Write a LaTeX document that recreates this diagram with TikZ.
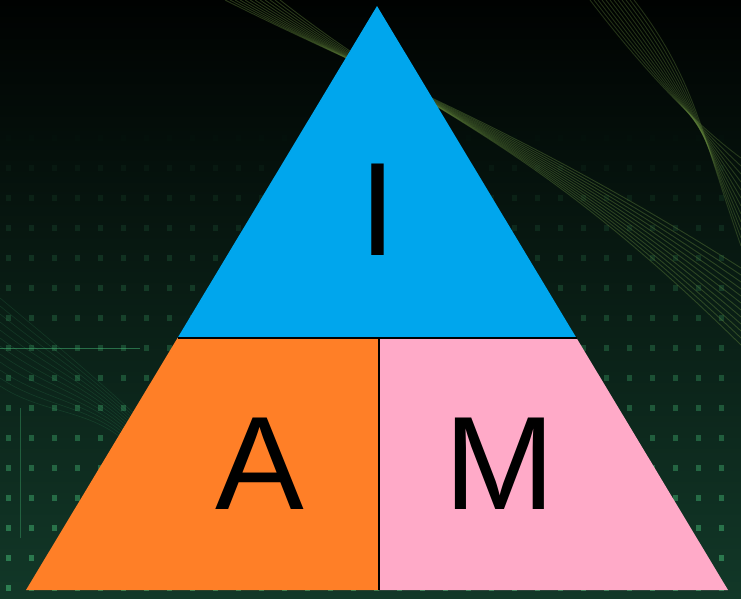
\documentclass[tikz,border=0pt]{standalone}
\usepackage{fontspec}
\setmainfont{Liberation Sans}
\definecolor{bgtop}{RGB}{0,2,1}
\definecolor{bgmid}{RGB}{6,20,14}
\definecolor{bgbot}{RGB}{18,56,40}
\definecolor{dotgreen}{RGB}{70,190,120}
\definecolor{wavegreen}{RGB}{100,135,60}
\definecolor{iblue}{RGB}{0,166,237}
\definecolor{aorange}{RGB}{255,127,39}
\definecolor{mpink}{RGB}{255,170,200}
\tikzset{
  letter/.style={anchor=base, inner sep=0pt, font=\fontsize{133}{133}\selectfont, text=black},
  divider/.style={draw=black, line width=2.8pt},
}
\begin{document}
\begin{tikzpicture}[x=1pt,y=1pt]
\useasboundingbox (0,0) rectangle (741,598);
% background
\shade[top color=bgtop, middle color=bgmid, bottom color=bgbot] (0,0) rectangle (741,598);
\foreach \yy in {10,40,...,460}{
  \pgfmathsetmacro{\op}{0.55*(1-\yy/470)}
  \foreach \xx in {8,31,...,740}{
    \fill[dotgreen, opacity=\op] (\xx-2.5,\yy-3) rectangle (\xx+2.5,\yy+3);
  }
}
\foreach \k in {0,...,11}{
  \draw[wavegreen, opacity=0.4, line width=0.9pt]
    (225+\k*5,598) .. controls (380+\k*5,520-\k*4) and (520,470) .. (741,330-\k*7);
  \draw[wavegreen, opacity=0.35, line width=0.9pt]
    (590+\k*4,598) .. controls (650+\k*4,520) and (700,470) .. (741,440-\k*8);
  \draw[dotgreen, opacity=0.15, line width=0.6pt]
    (0,300-\k*8) .. controls (60,250-\k*7) and (120,200) .. (170,150-\k*5);
}
\draw[dotgreen, opacity=0.5, line width=1pt] (0,250) -- (140,250);
\draw[dotgreen, opacity=0.35, line width=0.8pt] (20,190) -- (20,60);
% triangle
\coordinate (apex) at (377,592);
\coordinate (bl) at (26,8);
\coordinate (br) at (728,8);
\coordinate (ml) at (177.5,260);
\coordinate (mr) at (576.5,260);
\coordinate (mc) at (379,260);
\coordinate (bc) at (379,8);
\fill[iblue] (apex) -- (mr) -- (ml) -- cycle;
\fill[aorange] (ml) -- (mc) -- (bc) -- (bl) -- cycle;
\fill[mpink] (mc) -- (mr) -- (br) -- (bc) -- cycle;
\draw[divider] (ml) -- (mr);
\draw[divider, line width=2.2pt] (mc) -- (bc);
% letters
\node[letter] (I) at (378,343) {I};
\node[letter] (A) at (260,89) {A};
\node[letter] (M) at (500,89) {M};
\end{tikzpicture}
\end{document}
